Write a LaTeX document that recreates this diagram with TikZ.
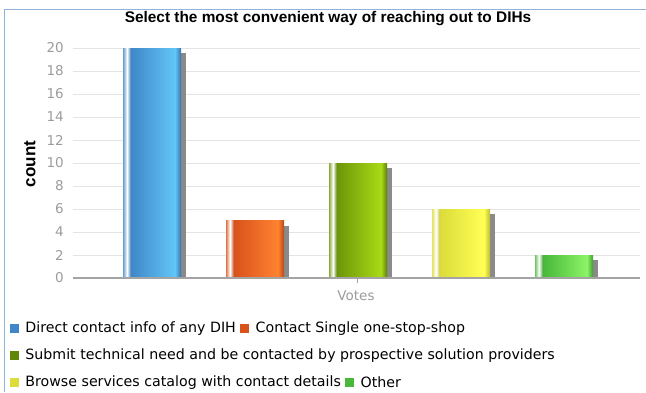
\documentclass[tikz,border=0pt]{standalone}
\usepackage{fontspec}
\setmainfont{DejaVu Sans}
\newfontfamily\arialfont{Liberation Sans}
\usepackage{tikz}
\usetikzlibrary{positioning}
\definecolor{framecol}{HTML}{8FB3D9}
\definecolor{gridgray}{HTML}{E4E4E4}
\definecolor{axisgray}{HTML}{A4A4A4}
\definecolor{ticktext}{HTML}{9C9C9C}
\definecolor{shadowgray}{HTML}{8A8A8A}
\definecolor{blueA}{HTML}{3F87C9}
\definecolor{blueB}{HTML}{62C6F7}
\definecolor{orangeA}{HTML}{D8521C}
\definecolor{orangeB}{HTML}{FF8230}
\definecolor{greenA}{HTML}{6C9608}
\definecolor{greenB}{HTML}{A9DA16}
\definecolor{yellowA}{HTML}{DCDC3A}
\definecolor{yellowB}{HTML}{FFFF55}
\definecolor{limeA}{HTML}{48B83A}
\definecolor{limeB}{HTML}{8CF466}
\tikzset{
  legkey/.style={fill=#1,minimum size=9pt,inner sep=0pt},
  legtext/.style={inner sep=0pt,anchor=west,font=\fontsize{14.2}{16}\selectfont}
}

\begin{document}
\begin{tikzpicture}[x=1pt,y=-1pt]
\useasboundingbox (0,0) rectangle (646,392);
\draw[framecol] (4,392) -- (4,9.5) -- (646,9.5);
\node[font=\arialfont\bfseries\fontsize{15.4}{17}\selectfont] (title) at (328,19)
  {Select the most convenient way of reaching out to DIHs};
% grid and values
\foreach \v in {0,2,...,20}{
    \pgfmathsetmacro{\yy}{278-11.5*\v}
    \draw[gridgray] (73,\yy) -- (640,\yy);
    \node[anchor=east,inner sep=0pt,text=ticktext,font=\fontsize{13.5}{15}\selectfont] (val\v) at (64,\yy) {\v};
}
\node[rotate=90,font=\arialfont\bfseries\fontsize{17}{19}\selectfont] (ylabel) at (30,164) {count};
% bars
\foreach \i/\v/\dk/\lt in {0/20/blueA/blueB,1/5/orangeA/orangeB,2/10/greenA/greenB,3/6/yellowA/yellowB,4/2/limeA/limeB}{
    \pgfmathsetmacro{\xx}{123+103*\i}
    \pgfmathsetmacro{\yy}{278-11.5*\v}
    \fill[shadowgray] (\xx+58,\yy+5) rectangle (\xx+63,278);
    \shade[left color=\dk,right color=\lt] (\xx+8,\yy) rectangle (\xx+52,278);
    \shade[left color=\lt,right color=\dk!85!black] (\xx+52,\yy) rectangle (\xx+58,278);
    \shade[left color=\dk!80,right color=\dk!90!black,middle color=white] (\xx,\yy) rectangle (\xx+8,278);
}
\draw[axisgray,line width=1.5pt] (73,278) -- (640,278);
\coordinate (tickbot) at (357,283);
\draw[axisgray] (357,278) -- (tickbot);
\node[text=ticktext,font=\fontsize{13.5}{15}\selectfont] (votes) at (356,296) {Votes};
% legend
\node[legkey=blueA] (key1) at (14.5,328.5) {};
\node[legtext,right=6pt of key1] (leg1) {Direct contact info of any DIH};
\node[legkey=orangeA,right=4pt of leg1] (key2) {};
\node[legtext,right=6pt of key2] (leg2) {Contact Single one-stop-shop};
\node[legkey=greenA!90!black] (key3) at (14.5,355.5) {};
\node[legtext,right=6pt of key3] (leg3) {Submit technical need and be contacted by prospective solution providers};
\node[legkey=yellowA] (key4) at (14.5,382.5) {};
\node[legtext,right=6pt of key4] (leg4) {Browse services catalog with contact details};
\node[legkey=limeA,right=4pt of leg4] (key5) {};
\node[legtext,right=6pt of key5] (leg5) {Other};
\end{tikzpicture}
\end{document}
